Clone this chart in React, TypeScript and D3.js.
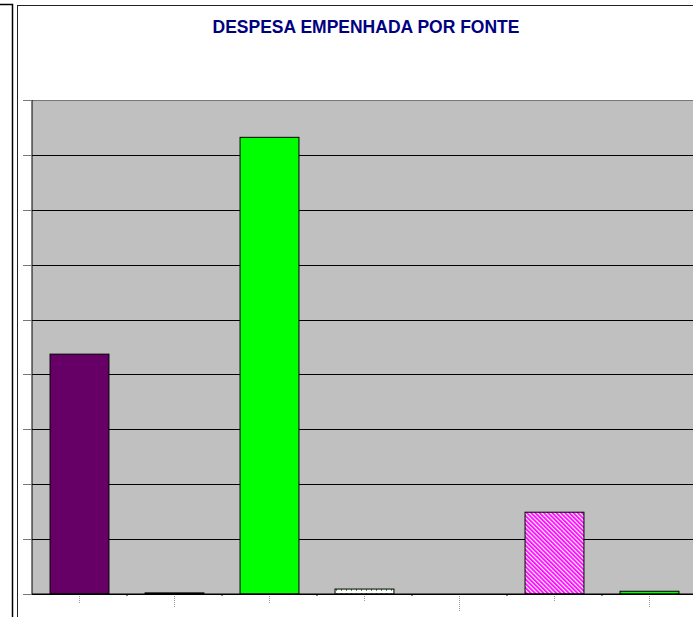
import { useEffect, useRef } from 'react'
import * as d3 from 'd3'

const title = 'DESPESA EMPENHADA POR FONTE'
const fontes = ['F1', 'F2', 'F3', 'F4', 'F5', 'F6', 'F7']
const valores = [4.37, 0.02, 8.32, 0.09, 0, 1.49, 0.05]
const yTicks = [0, 1, 2, 3, 4, 5, 6, 7, 8, 9]
// length of the little illegible label marks under each category
const labelLen = [7, 11, 7, 6, 15, 6, 11]

const fills = ['#660066', '#000033', '#00ff00', 'url(#dots)', 'none', 'url(#stripes)', '#00ff00']

export default function App() {
  const svgRef = useRef<SVGSVGElement>(null)
  const width = 693
  const height = 617
  const margin = { top: 100, left: 32, bottom: 594, right: 697 }

  useEffect(() => {
    if (!svgRef.current) return
    const svg = d3.select(svgRef.current)
    svg.selectAll('*').remove()

    const defs = svg.append('defs')
    const dots = defs
      .append('pattern')
      .attr('id', 'dots')
      .attr('patternUnits', 'userSpaceOnUse')
      .attr('width', 5)
      .attr('height', 4)
    dots.append('rect').attr('width', 5).attr('height', 4).attr('fill', '#ffffff')
    dots.append('rect').attr('x', 1).attr('y', 1).attr('width', 1).attr('height', 2).attr('fill', '#33aa33')

    const stripes = defs
      .append('pattern')
      .attr('id', 'stripes')
      .attr('patternUnits', 'userSpaceOnUse')
      .attr('width', 3)
      .attr('height', 3)
      .attr('patternTransform', 'rotate(-45)')
    stripes.append('rect').attr('width', 3).attr('height', 3).attr('fill', '#ffffff')
    stripes.append('rect').attr('width', 1.8).attr('height', 3).attr('fill', '#ff00ff')

    // frames
    svg
      .append('rect')
      .attr('x', -10)
      .attr('y', 4.5)
      .attr('width', 22.5)
      .attr('height', 700)
      .attr('fill', 'none')
      .attr('stroke', '#000')
      .attr('stroke-width', 1.5)
    svg
      .append('rect')
      .attr('x', 17.5)
      .attr('y', 5.5)
      .attr('width', 700)
      .attr('height', 700)
      .attr('fill', 'none')
      .attr('stroke', '#222')
      .attr('stroke-width', 1)

    svg
      .append('text')
      .attr('x', 366)
      .attr('y', 33)
      .attr('text-anchor', 'middle')
      .attr('font-family', 'Liberation Sans, Arial, sans-serif')
      .attr('font-weight', 'bold')
      .attr('font-size', 17.5)
      .attr('fill', '#000080')
      .text(title)

    const x = d3.scaleBand().domain(fontes).range([margin.left, margin.right]).paddingInner(0.38).paddingOuter(0.19)
    const band = d3.scaleBand().domain(fontes).range([margin.left, margin.right])
    const y = d3.scaleLinear().domain([0, 9]).range([margin.bottom, margin.top])

    // plot background
    svg
      .append('rect')
      .attr('x', margin.left)
      .attr('y', margin.top)
      .attr('width', margin.right - margin.left)
      .attr('height', margin.bottom - margin.top)
      .attr('fill', '#c0c0c0')

    // grid lines
    svg
      .append('g')
      .attr('transform', `translate(${margin.left},0)`)
      .call(
        d3
          .axisLeft(y)
          .tickValues(yTicks)
          .tickSize(-(margin.right - margin.left))
          .tickFormat(() => ''),
      )
      .call((g) => g.select('.domain').remove())
      .call((g) => g.selectAll('line').attr('stroke', '#000').attr('shape-rendering', 'crispEdges'))
      .call((g) =>
        g
          .selectAll('line')
          .filter((d) => d === 9)
          .attr('stroke', '#777')
          .attr('stroke-width', 1.5),
      )

    // y ticks left of axis
    svg
      .append('g')
      .attr('transform', `translate(${margin.left},0)`)
      .call(d3.axisLeft(y).tickValues(yTicks).tickSize(9).tickFormat(() => ''))
      .call((g) => g.select('.domain').attr('stroke', '#000').attr('d', `M0,${margin.top}V${margin.bottom}`))
      .call((g) => g.selectAll('line').attr('stroke', '#777').attr('shape-rendering', 'crispEdges'))

    // bars
    svg
      .append('g')
      .selectAll('rect')
      .data(valores)
      .join('rect')
      .attr('x', (_, i) => x(fontes[i])!)
      .attr('y', (d) => y(d))
      .attr('width', x.bandwidth())
      .attr('height', (d) => y(0) - y(d))
      .attr('fill', (_, i) => fills[i])
      .attr('stroke', (d) => (d > 0 ? '#000' : 'none'))
      .attr('stroke-width', 1)

    // x axis
    const xAxis = svg.append('g').attr('transform', `translate(0,${margin.bottom})`)
    xAxis
      .append('line')
      .attr('x1', margin.left)
      .attr('x2', margin.right)
      .attr('stroke', '#000')
      .attr('stroke-width', 1.2)
    xAxis
      .selectAll('line.sep')
      .data(fontes)
      .join('line')
      .attr('class', 'sep')
      .attr('x1', (d) => band(d)! + band.bandwidth())
      .attr('x2', (d) => band(d)! + band.bandwidth())
      .attr('y1', 0)
      .attr('y2', 2)
      .attr('stroke', '#000')
    xAxis
      .selectAll('line.lbl')
      .data(fontes)
      .join('line')
      .attr('class', 'lbl')
      .attr('x1', (d) => band(d)! + band.bandwidth() / 2)
      .attr('x2', (d) => band(d)! + band.bandwidth() / 2)
      .attr('y1', 2)
      .attr('y2', (_, i) => 2 + labelLen[i])
      .attr('stroke', '#999')
      .attr('stroke-dasharray', '1,1')
  }, [])

  return (
    <div style={{ position: 'fixed', left: 0, top: 0 }}>
      <svg ref={svgRef} width={width} height={height} style={{ display: 'block', background: '#fff' }} />
    </div>
  )
}
